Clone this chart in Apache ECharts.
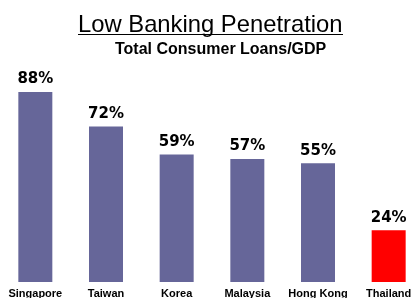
<!DOCTYPE html>
<html>
<head>
<meta charset="utf-8">
<script src="https://cdn.jsdelivr.net/npm/echarts@6/dist/echarts.min.js"></script>
<style>
  html, body { margin: 0; padding: 0; background: #fff; }
  #chart { width: 411px; height: 298px; }
</style>
</head>
<body>
<div id="chart"></div>
<script>
// 数据
var countries = ["Singapore", "Taiwan", "Korea", "Malaysia", "Hong Kong", "Thailand"];
var loansToGdp = [88, 72, 59, 57, 55, 24];
var barColors = ["#666699", "#666699", "#666699", "#666699", "#666699", "#ff0000"];

var chart = echarts.init(document.getElementById("chart"));

var option = {
  animation: false,
  title: [
    {
      text: "Low Banking Penetration",
      left: 78,
      top: 13,
      padding: 0,
      textStyle: {
        fontFamily: "Liberation Sans",
        fontWeight: "normal",
        fontSize: 23.8,
        color: "#000",
      },
    },
    {
      text: "Total Consumer Loans/GDP",
      left: 115,
      top: 42,
      padding: 0,
      textStyle: {
        fontFamily: "Liberation Sans",
        fontWeight: "bold",
        fontSize: 16,
        color: "#000",
      },
    },
  ],
  // 标题下划线
  graphic: [
    {
      type: "line",
      shape: { x1: 78, y1: 34.5, x2: 343, y2: 34.5 },
      style: { stroke: "#000", lineWidth: 1.2 },
    },
  ],
  grid: {
    left: 0,
    right: -13,
    top: 66,
    bottom: 16,
    containLabel: false,
    outerBoundsMode: "none",
  },
  xAxis: {
    type: "category",
    data: countries,
    axisLine: { show: false },
    axisTick: { show: false },
    axisLabel: {
      interval: 0,
      margin: 6,
      color: "#000",
      fontFamily: "Liberation Sans",
      fontWeight: "bold",
      fontSize: 11,
    },
  },
  yAxis: {
    type: "value",
    min: 0,
    max: 100,
    show: false,
  },
  series: [
    {
      type: "bar",
      barWidth: 34,
      data: loansToGdp.map(function (v, i) {
        return { value: v, itemStyle: { color: barColors[i] } };
      }),
      label: {
        show: true,
        position: "top",
        distance: 5,
        formatter: "{c}%",
        color: "#000",
        fontFamily: "DejaVu Sans",
        fontWeight: "bold",
        fontSize: 15,
      },
    },
  ],
};
chart.setOption(option);
</script>
</body>
</html>
